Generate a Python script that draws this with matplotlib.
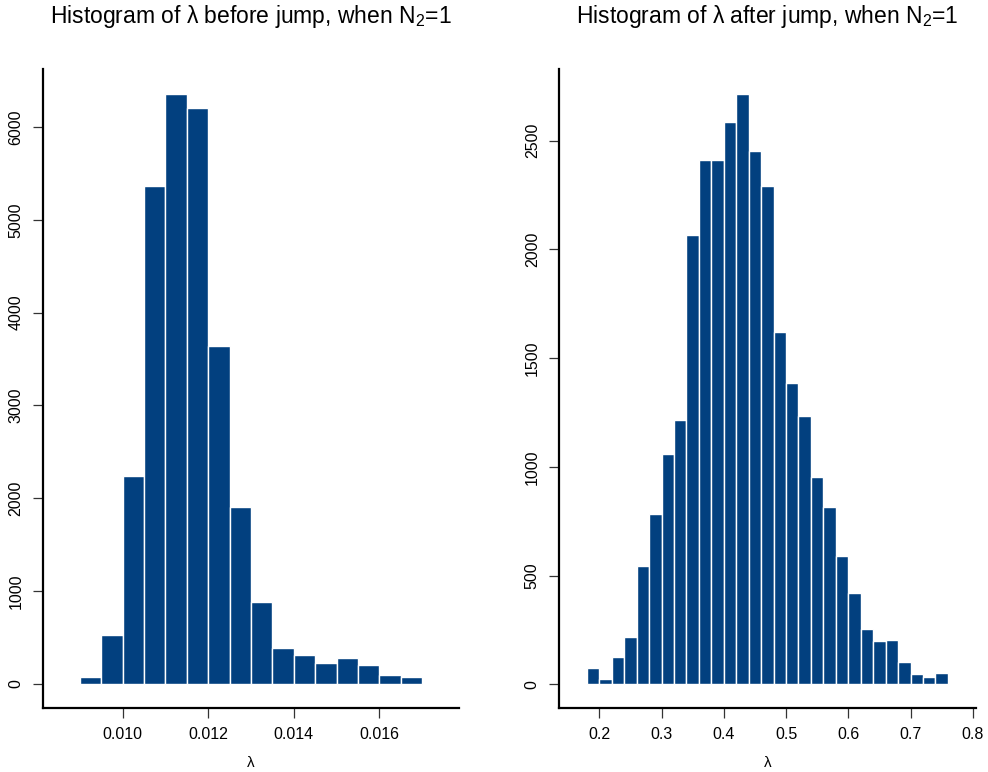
import numpy as np
import matplotlib
matplotlib.use('Agg')
import matplotlib.pyplot as plt

plt.rcParams['font.family'] = ['Liberation Sans', 'DejaVu Sans']
plt.rcParams['mathtext.default'] = 'regular'

# counts per bin, lambda before the jump (bins of 0.0005 from 0.009)
before_start = 0.009
before_width = 0.0005
before_counts = [75, 531, 2237, 5368, 6359, 6208, 3644, 1907,
                 887, 384, 312, 226, 284, 201, 97, 75]

# counts per bin, lambda after the jump (bins of 0.02 from 0.18)
after_start = 0.18
after_width = 0.02
after_counts = [77, 25, 127, 218, 543, 784, 1060, 1213, 2065, 2412,
                2412, 2585, 2715, 2452, 2291, 1622, 1386, 1233, 955, 814,
                589, 422, 254, 198, 204, 101, 47, 32, 52]

before_xticks = [0.010, 0.012, 0.014, 0.016]
before_xlabels = ['0.010', '0.012', '0.014', '0.016']
before_yticks = [0, 1000, 2000, 3000, 4000, 5000, 6000]
after_xticks = [0.2, 0.3, 0.4, 0.5, 0.6, 0.7, 0.8]
after_xlabels = ['0.2', '0.3', '0.4', '0.5', '0.6', '0.7', '0.8']
after_yticks = [0, 500, 1000, 1500, 2000, 2500]

BAR_COLOR = '#02407f'

fig = plt.figure(figsize=(9.88, 7.72), dpi=100)
ax1 = fig.add_axes([0.0435, 0.0829, 0.4211, 0.8277])
ax2 = fig.add_axes([0.5661, 0.0829, 0.4218, 0.8277])


def draw_hist(ax, start, width, counts, title, xticks, xlabels, yticks, xlim, ylim):
    lefts = [start + i * width for i in range(len(counts))]
    ax.bar(lefts, counts, width=width, align='edge', color=BAR_COLOR,
           edgecolor='white', linewidth=1.0)
    ax.set_xlim(*xlim)
    ax.set_ylim(*ylim)
    ax.set_xticks(xticks)
    ax.set_xticklabels(xlabels)
    ax.set_yticks(yticks)
    ax.set_yticklabels([str(v) for v in yticks], rotation=90, va='center')
    for s in ['top', 'right']:
        ax.spines[s].set_visible(False)
    for s in ['left', 'bottom']:
        ax.spines[s].set_linewidth(1.6)
    ax.tick_params(axis='both', direction='out', length=7, width=0.9,
                   labelsize=11.5, color='#333333')
    ax.tick_params(axis='x', pad=7)
    ax.tick_params(axis='y', pad=7)
    ax.set_xlabel('λ', fontsize=11, labelpad=10)
    ax.set_title(title, fontsize=16.5, pad=33)


draw_hist(ax1, before_start, before_width, before_counts,
          'Histogram of λ before jump, when N$_{2}$=1',
          before_xticks, before_xlabels, before_yticks,
          (0.00814, 0.01786), (-259, 6625))
draw_hist(ax2, after_start, after_width, after_counts,
          'Histogram of λ after jump, when N$_{2}$=1',
          after_xticks, after_xlabels, after_yticks,
          (0.1357, 0.8053), (-109, 2829))

fig.savefig('out.png', dpi=100)
